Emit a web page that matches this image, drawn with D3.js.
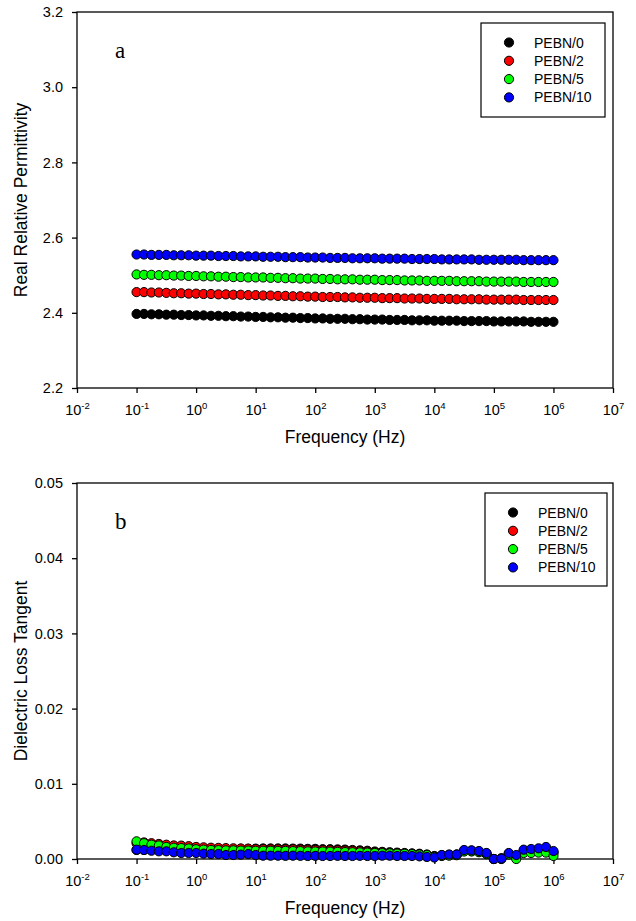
<!DOCTYPE html>
<html>
<head>
<meta charset="utf-8">
<script src="https://cdn.jsdelivr.net/npm/d3@7/dist/d3.min.js"></script>
<style>
  html, body { margin: 0; padding: 0; background: #fff; }
  svg { display: block; }
  text { font-family: "Liberation Sans", Arial, sans-serif; fill: #000; }
</style>
</head>
<body>
<svg id="chart" width="636" height="921"></svg>
<script>
// Measurement frequencies (Hz), 8 points per decade from 0.1 Hz to 1 MHz
const freqHz = [
  0.1, 0.1334, 0.1778, 0.2371, 0.3162, 0.4217, 0.5623, 0.7499,
  1, 1.334, 1.778, 2.371, 3.162, 4.217, 5.623, 7.499,
  10, 13.34, 17.78, 23.71, 31.62, 42.17, 56.23, 74.99,
  100, 133.4, 177.8, 237.1, 316.2, 421.7, 562.3, 749.9,
  1000, 1334, 1778, 2371, 3162, 4217, 5623, 7499,
  1e4, 1.334e4, 1.778e4, 2.371e4, 3.162e4, 4.217e4, 5.623e4, 7.499e4,
  1e5, 1.334e5, 1.778e5, 2.371e5, 3.162e5, 4.217e5, 5.623e5, 7.499e5,
  1e6
];

const seriesNames = ["PEBN/0", "PEBN/2", "PEBN/5", "PEBN/10"];
const seriesColors = ["#000000", "#ff0000", "#00ff00", "#0000ff"];

// (a) real relative permittivity
const permPEBN0 = [
  2.397, 2.397, 2.396, 2.396, 2.395, 2.395, 2.394, 2.394, 2.393,
  2.393, 2.392, 2.392, 2.391, 2.391, 2.390, 2.390, 2.389,
  2.389, 2.388, 2.388, 2.387, 2.387, 2.386, 2.386, 2.385,
  2.385, 2.384, 2.384, 2.384, 2.383, 2.383, 2.382, 2.382,
  2.382, 2.381, 2.381, 2.381, 2.380, 2.380, 2.380, 2.379,
  2.379, 2.379, 2.379, 2.378, 2.378, 2.378, 2.378, 2.377,
  2.377, 2.377, 2.377, 2.377, 2.376, 2.376, 2.376, 2.376
];
const permPEBN2 = [
  2.455, 2.455, 2.454, 2.454, 2.453, 2.452, 2.452, 2.451, 2.451,
  2.450, 2.450, 2.449, 2.449, 2.448, 2.448, 2.447, 2.447,
  2.446, 2.446, 2.445, 2.445, 2.444, 2.444, 2.443, 2.443,
  2.442, 2.442, 2.442, 2.441, 2.441, 2.440, 2.440, 2.440,
  2.439, 2.439, 2.439, 2.438, 2.438, 2.438, 2.437, 2.437,
  2.437, 2.437, 2.436, 2.436, 2.436, 2.436, 2.435, 2.435,
  2.435, 2.435, 2.435, 2.434, 2.434, 2.434, 2.434, 2.434
];
const permPEBN5 = [
  2.502, 2.501, 2.501, 2.500, 2.500, 2.499, 2.499, 2.498, 2.498,
  2.497, 2.497, 2.496, 2.496, 2.495, 2.495, 2.494, 2.494,
  2.494, 2.493, 2.493, 2.492, 2.492, 2.491, 2.491, 2.491,
  2.490, 2.490, 2.489, 2.489, 2.489, 2.488, 2.488, 2.488,
  2.487, 2.487, 2.487, 2.486, 2.486, 2.486, 2.485, 2.485,
  2.485, 2.485, 2.484, 2.484, 2.484, 2.484, 2.483, 2.483,
  2.483, 2.483, 2.483, 2.482, 2.482, 2.482, 2.482, 2.482
];
const permPEBN10 = [
  2.555, 2.555, 2.554, 2.554, 2.554, 2.553, 2.553, 2.553, 2.552,
  2.552, 2.552, 2.551, 2.551, 2.551, 2.550, 2.550, 2.550,
  2.549, 2.549, 2.549, 2.548, 2.548, 2.548, 2.547, 2.547,
  2.547, 2.546, 2.546, 2.546, 2.545, 2.545, 2.545, 2.545,
  2.544, 2.544, 2.544, 2.544, 2.543, 2.543, 2.543, 2.543,
  2.542, 2.542, 2.542, 2.542, 2.542, 2.541, 2.541, 2.541,
  2.541, 2.541, 2.541, 2.540, 2.540, 2.540, 2.540, 2.540
];

// (b) dielectric loss tangent
const tanPEBN0 = [
  0.00120, 0.00120, 0.00125, 0.00130, 0.00130, 0.00130, 0.00128, 0.00130,
  0.00130, 0.00130, 0.00128, 0.00130, 0.00130, 0.00132, 0.00135, 0.00135,
  0.00138, 0.00140, 0.00140, 0.00140, 0.00140, 0.00138, 0.00138, 0.00135,
  0.00135, 0.00130, 0.00130, 0.00128, 0.00125, 0.00120, 0.00115, 0.00110,
  0.00100, 0.00095, 0.00090, 0.00085, 0.00080, 0.00075, 0.00070, 0.00060,
  0.00040, 0.00050, 0.00055, 0.00060, 0.00110, 0.00110, 0.00100, 0.00075,
  0.00000, 0.00010, 0.00070, 0.00040, 0.00110, 0.00120, 0.00130, 0.00140,
  0.00090
];
const tanPEBN2 = [
  0.00210, 0.00220, 0.00210, 0.00200, 0.00190, 0.00180, 0.00178, 0.00170,
  0.00160, 0.00155, 0.00150, 0.00148, 0.00145, 0.00142, 0.00140, 0.00138,
  0.00132, 0.00132, 0.00130, 0.00130, 0.00128, 0.00128, 0.00125, 0.00125,
  0.00122, 0.00120, 0.00118, 0.00115, 0.00112, 0.00110, 0.00105, 0.00100,
  0.00090, 0.00088, 0.00082, 0.00078, 0.00072, 0.00068, 0.00062, 0.00055,
  0.00035, 0.00045, 0.00050, 0.00055, 0.00105, 0.00105, 0.00095, 0.00070,
  0.00000, 0.00005, 0.00065, 0.00030, 0.00100, 0.00110, 0.00120, 0.00130,
  0.00080
];
const tanPEBN5 = [
  0.00235, 0.00210, 0.00190, 0.00180, 0.00160, 0.00150, 0.00145, 0.00140,
  0.00130, 0.00125, 0.00120, 0.00118, 0.00115, 0.00115, 0.00112, 0.00112,
  0.00110, 0.00110, 0.00110, 0.00108, 0.00108, 0.00105, 0.00105, 0.00102,
  0.00100, 0.00100, 0.00098, 0.00095, 0.00092, 0.00090, 0.00088, 0.00085,
  0.00080, 0.00078, 0.00075, 0.00072, 0.00070, 0.00065, 0.00060, 0.00052,
  0.00030, 0.00040, 0.00045, 0.00050, 0.00100, 0.00100, 0.00090, 0.00065,
  0.00000, 0.00000, 0.00060, 0.00000, 0.00080, 0.00080, 0.00085, 0.00085,
  0.00040
];
const tanPEBN10 = [
  0.00124, 0.00120, 0.00110, 0.00102, 0.00102, 0.00089, 0.00080, 0.00080,
  0.00080, 0.00071, 0.00066, 0.00066, 0.00053, 0.00053, 0.00058, 0.00066,
  0.00053, 0.00044, 0.00044, 0.00044, 0.00042, 0.00044, 0.00042, 0.00040,
  0.00042, 0.00040, 0.00040, 0.00042, 0.00040, 0.00040, 0.00042, 0.00040,
  0.00040, 0.00044, 0.00044, 0.00040, 0.00040, 0.00040, 0.00035, 0.00027,
  0.00020, 0.00053, 0.00060, 0.00060, 0.00120, 0.00115, 0.00106, 0.00080,
  0.00000, 0.00005, 0.00080, 0.00053, 0.00124, 0.00133, 0.00142, 0.00160,
  0.00106
];

const xTicks = [1e-2, 1e-1, 1e0, 1e1, 1e2, 1e3, 1e4, 1e5, 1e6, 1e7];
const permTicks = [2.2, 2.4, 2.6, 2.8, 3.0, 3.2];
const tanTicks = [0.00, 0.01, 0.02, 0.03, 0.04, 0.05];

const svg = d3.select("#chart");
const left = 77, right = 613;

function drawPanel(cfg) {
  const g = svg.append("g");
  const x = d3.scaleLog().domain([1e-2, 1e7]).range([left, right]);
  const y = d3.scaleLinear().domain(cfg.yDomain).range([cfg.bottom, cfg.top]);

  // x axis with power-of-ten labels
  const xAxis = g.append("g")
    .attr("transform", `translate(0,${cfg.bottom})`)
    .call(d3.axisBottom(x).tickValues(xTicks).tickSize(5).tickSizeOuter(0).tickFormat(() => ""));
  xAxis.select(".domain").remove();
  xAxis.selectAll(".tick line").attr("stroke", "#000").attr("stroke-width", 1.3);
  xAxis.selectAll(".tick").each(function(d) {
    const t = d3.select(this).append("text")
      .attr("y", 27).attr("text-anchor", "middle")
      .style("font-size", "14.5px");
    t.append("tspan").text("10");
    t.append("tspan").attr("dy", -6).style("font-size", "9.5px")
      .text(String(Math.round(Math.log10(d))));
  });

  // y axis
  const yAxis = g.append("g")
    .attr("transform", `translate(${left},0)`)
    .call(d3.axisLeft(y).tickValues(cfg.yTicks).tickSize(5).tickSizeOuter(0)
      .tickPadding(9).tickFormat(d3.format(cfg.yFormat)));
  yAxis.select(".domain").remove();
  yAxis.selectAll(".tick line").attr("stroke", "#000").attr("stroke-width", 1.3);
  yAxis.selectAll(".tick text").style("font-size", "14.5px").attr("fill", "#000");

  // plot frame
  g.append("rect")
    .attr("x", left).attr("y", cfg.top)
    .attr("width", right - left).attr("height", cfg.bottom - cfg.top)
    .attr("fill", "none").attr("stroke", "#000").attr("stroke-width", 1.3);

  // axis titles
  g.append("text")
    .attr("x", (left + right) / 2).attr("y", cfg.bottom + 55)
    .attr("text-anchor", "middle").style("font-size", "17.5px")
    .text("Frequency (Hz)");
  g.append("text")
    .attr("transform", `translate(27,${(cfg.top + cfg.bottom) / 2}) rotate(-90)`)
    .attr("text-anchor", "middle").style("font-size", "17.5px")
    .text(cfg.yTitle);

  // panel letter
  g.append("text")
    .attr("x", 115).attr("y", cfg.top + 46)
    .style("font-family", "'Liberation Serif', 'Times New Roman', serif")
    .style("font-size", "23px")
    .text(cfg.letter);

  // data markers
  cfg.series.forEach((vals, si) => {
    g.append("g").selectAll("circle")
      .data(vals)
      .join("circle")
      .attr("cx", (v, i) => x(freqHz[i]))
      .attr("cy", v => y(v))
      .attr("r", 4.6)
      .attr("fill", seriesColors[si])
      .attr("stroke", "#000")
      .attr("stroke-width", 1);
  });

  // legend
  const lg = g.append("g");
  lg.append("rect")
    .attr("x", cfg.legend.x).attr("y", cfg.legend.y)
    .attr("width", cfg.legend.w).attr("height", cfg.legend.h)
    .attr("fill", "#fff").attr("stroke", "#000").attr("stroke-width", 1.2);
  seriesNames.forEach((name, si) => {
    const cy = cfg.legend.y + 19.5 + si * 18.3;
    lg.append("circle")
      .attr("cx", cfg.legend.x + 28).attr("cy", cy).attr("r", 4.6)
      .attr("fill", seriesColors[si]).attr("stroke", "#000").attr("stroke-width", 1);
    lg.append("text")
      .attr("x", cfg.legend.x + 53).attr("y", cy + 5)
      .style("font-size", "14px")
      .text(name);
  });
}

drawPanel({
  top: 12, bottom: 388,
  yDomain: [2.2, 3.2], yTicks: permTicks, yFormat: ".1f",
  yTitle: "Real Relative Permittivity", letter: "a",
  series: [permPEBN0, permPEBN2, permPEBN5, permPEBN10],
  legend: { x: 481, y: 23, w: 124, h: 94 }
});

drawPanel({
  top: 483, bottom: 859,
  yDomain: [0, 0.05], yTicks: tanTicks, yFormat: ".2f",
  yTitle: "Dielectric Loss Tangent", letter: "b",
  series: [tanPEBN0, tanPEBN2, tanPEBN5, tanPEBN10],
  legend: { x: 485, y: 493, w: 122, h: 93 }
});
</script>
</body>
</html>
